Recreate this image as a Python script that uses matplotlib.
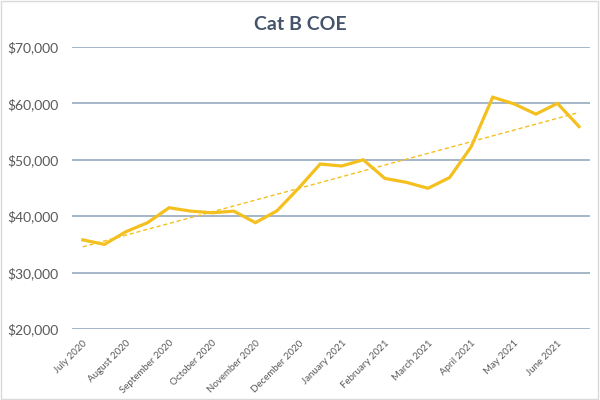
import matplotlib.pyplot as plt
import numpy as np

months = ['July 2020', 'August 2020', 'September 2020', 'October 2020',
          'November 2020', 'December 2020', 'January 2021', 'February 2021',
          'March 2021', 'April 2021', 'May 2021', 'June 2021']

# two bidding exercises per month
coe = [35800, 35000, 37250, 38850, 41500, 40900, 40600, 40900,
       38850, 40950, 44950, 49250, 48900, 50000, 46700, 46000,
       44950, 46850, 52300, 61100, 59900, 58100, 60000, 55900]

plt.rcParams['font.family'] = ['Lato', 'DejaVu Sans']

fig = plt.figure(figsize=(6, 4), dpi=100)
ax = fig.add_axes([0.12, 0.1775, 0.863, 0.705])

x = np.arange(len(coe))
ax.plot(x, coe, color='#F4C020', linewidth=2.3, solid_joinstyle='miter')

# linear trendline
k, b = np.polyfit(x, coe, 1)
ax.plot(x, k * x + b, color='#F4C020', linewidth=1.0, linestyle=(0, (3, 2)))

ax.set_xlim(-0.5, len(coe) - 0.5)
ax.set_ylim(20000, 70000)
ax.set_yticks(range(20000, 70001, 10000))
ax.set_yticklabels(['${:,}'.format(v) for v in range(20000, 70001, 10000)],
                   fontsize=10, color='#595959')
ax.set_xticks(x[::2])
ax.set_xticklabels(months, rotation=45, ha='right', va='top',
                   rotation_mode='anchor', fontsize=7, color='#595959')

ax.grid(axis='y', color='#95A9C0', linewidth=1.2)
ax.set_axisbelow(True)
for s in ax.spines.values():
    s.set_visible(False)
ax.tick_params(axis='x', length=0, pad=7)
ax.tick_params(axis='y', length=0, pad=10)

fig.text(0.5, 0.94, 'Cat B COE', ha='center', va='center', fontsize=14,
         fontweight='bold', color='#44546A')

fig.patches.append(plt.Rectangle((0.002, 0.002), 0.995, 0.995, transform=fig.transFigure,
                                 fill=False, edgecolor='#D9D9D9', linewidth=1))

plt.savefig('out.png')
